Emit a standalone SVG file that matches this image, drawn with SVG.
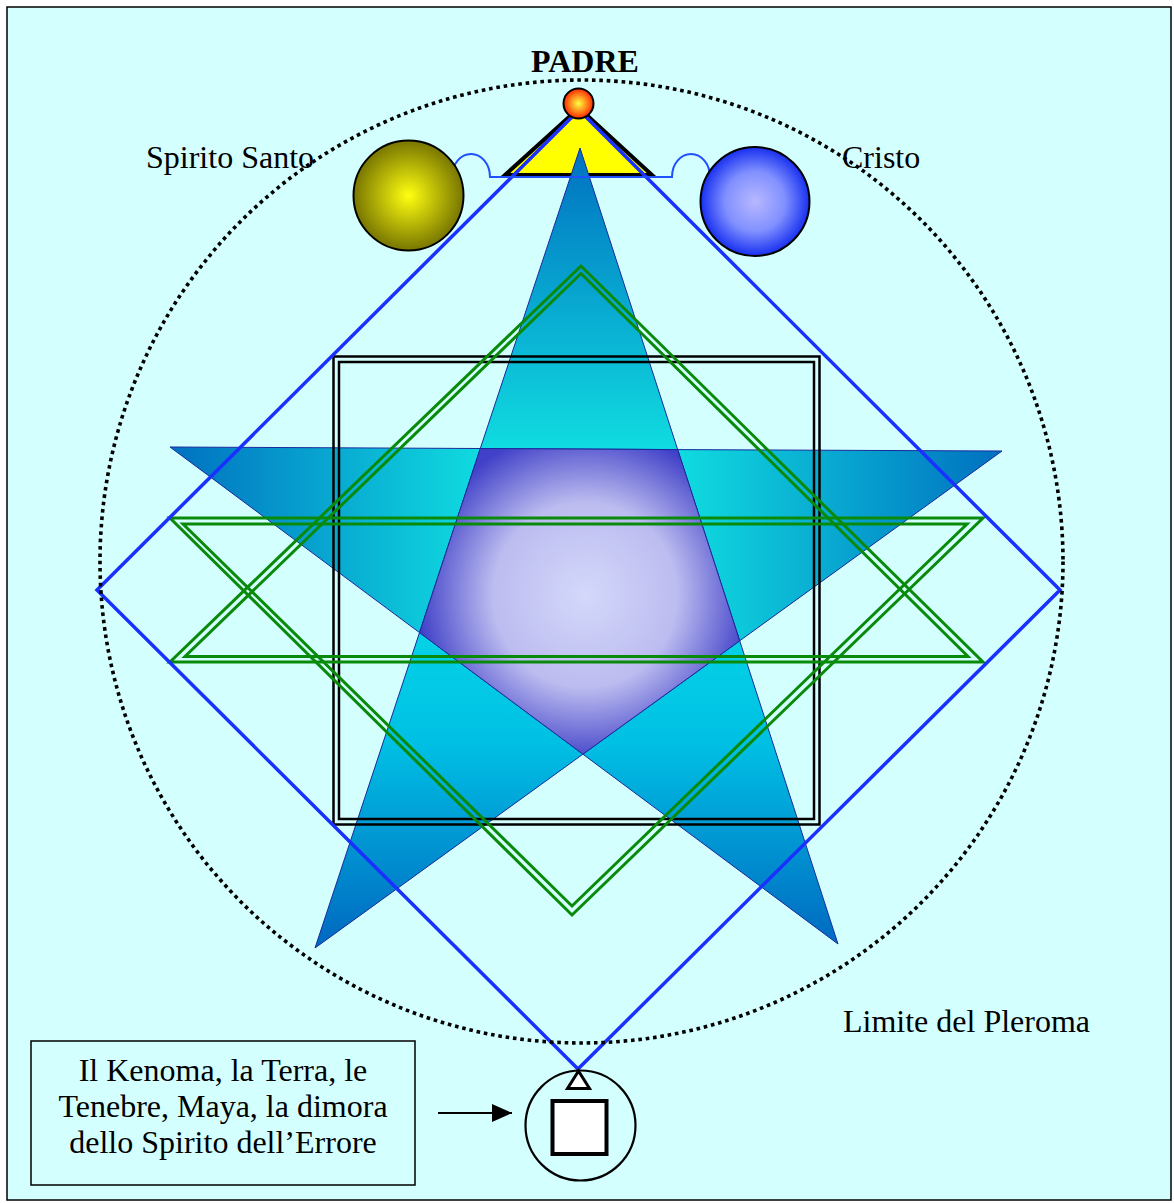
<svg xmlns="http://www.w3.org/2000/svg" width="1174" height="1203" viewBox="0 0 1174 1203">
<defs>
<style>
.txt{font-family:"Liberation Serif","Times New Roman",serif;font-size:32px;fill:#000}
.bold{font-weight:bold}
.tip{stroke:#1a2a9a;stroke-width:1}
.grn{fill:none;stroke:#0a8a0a;stroke-width:3}
.blk{fill:none;stroke:#000;stroke-width:2.5}
</style>
<linearGradient id="gTop" gradientUnits="userSpaceOnUse" x1="0" y1="148" x2="0" y2="449"><stop offset="0" stop-color="#0070c0"/><stop offset="1" stop-color="#10dce0"/></linearGradient>
<linearGradient id="gLeft" gradientUnits="userSpaceOnUse" x1="170" y1="0" x2="482" y2="0"><stop offset="0" stop-color="#0070c0"/><stop offset="1" stop-color="#10dce0"/></linearGradient>
<linearGradient id="gRight" gradientUnits="userSpaceOnUse" x1="1002" y1="0" x2="678" y2="0"><stop offset="0" stop-color="#0070c0"/><stop offset="1" stop-color="#10dce0"/></linearGradient>
<linearGradient id="gLow" gradientUnits="userSpaceOnUse" x1="0" y1="632" x2="0" y2="948"><stop offset="0" stop-color="#04d2e6"/><stop offset="0.35" stop-color="#00c0e4"/><stop offset="1" stop-color="#0068c0"/></linearGradient>
<radialGradient id="gPent" gradientUnits="userSpaceOnUse" cx="585" cy="595" r="168"><stop offset="0" stop-color="#d4d8fa"/><stop offset="0.55" stop-color="#bcbcf0"/><stop offset="1" stop-color="#4040c8"/></radialGradient>
<radialGradient id="gSS"><stop offset="0" stop-color="#ffff10"/><stop offset="1" stop-color="#787600"/></radialGradient>
<radialGradient id="gCr"><stop offset="0" stop-color="#b8b8ff"/><stop offset="0.55" stop-color="#8090ff"/><stop offset="1" stop-color="#1830f0"/></radialGradient>
<radialGradient id="gOr"><stop offset="0" stop-color="#ffff40"/><stop offset="1" stop-color="#ff2800"/></radialGradient>
<marker id="arr" markerWidth="20" markerHeight="18" refX="20" refY="9" orient="auto" markerUnits="userSpaceOnUse"><path d="M0,0 L20,9 L0,18 Z" fill="#000"/></marker>
</defs>
<rect x="0" y="0" width="1174" height="1203" fill="#fff"/>
<rect x="7" y="7" width="1164" height="1193" fill="#d4ffff" stroke="#000" stroke-width="1.5"/>

<g id="padre-triangle">
<polygon points="579,108 505,175 652,175" fill="#ffff00" stroke="#000" stroke-width="4" stroke-linejoin="miter"/>
</g>

<g id="pentagram">
<polygon class="tip" points="580,148 480.3,448.5 677.7,449.6" fill="url(#gTop)"/>
<polygon class="tip" points="170,447 480.3,448.5 419.5,632.6" fill="url(#gLeft)"/>
<polygon class="tip" points="1002,451 677.7,449.6 739.7,640.8" fill="url(#gRight)"/>
<polygon class="tip" points="315,948 419.5,632.6 582.9,754.2" fill="url(#gLow)"/>
<polygon class="tip" points="838,944 739.7,640.8 582.9,754.2" fill="url(#gLow)"/>
<polygon class="tip" points="480.3,448.5 677.7,449.6 739.7,640.8 582.9,754.2 419.5,632.6" fill="url(#gPent)"/>
</g>

<g id="square">
<rect class="blk" x="333.5" y="356.5" width="486" height="468"/>
<rect class="blk" x="339" y="362" width="475" height="457"/>
</g>

<g id="hexagram">
<polygon class="grn" points="581,266 170,662 983,662"/>
<polygon class="grn" points="581,273.5 185,656.5 968,656.5"/>
<polygon class="grn" points="170,518 983,518 572,915"/>
<polygon class="grn" points="183,524 967,524 572,906"/>
</g>

<g id="diamond">
<polygon points="579,110 1060,590 578,1069 97,590" fill="none" stroke="#1a30ff" stroke-width="3.5"/>
</g>

<g id="connectors">
<path d="M452,177 A19,23 0 0 1 490,177 L672,177 A19,23 0 0 1 710,177" fill="none" stroke="#2050ff" stroke-width="2"/>
<line x1="438" y1="1113" x2="512" y2="1113" stroke="#000" stroke-width="2" marker-end="url(#arr)"/>
</g>

<g id="spirito-santo">
<circle cx="408.5" cy="195.5" r="55" fill="url(#gSS)" stroke="#000" stroke-width="2"/>
<text class="txt" x="146" y="168">Spirito Santo</text>
</g>

<g id="cristo">
<circle cx="755" cy="201.5" r="54.5" fill="url(#gCr)" stroke="#000" stroke-width="2"/>
<text class="txt" x="842" y="168">Cristo</text>
</g>

<g id="padre">
<circle cx="578.5" cy="103.5" r="15" fill="url(#gOr)" stroke="#000" stroke-width="2"/>
<text class="txt bold" x="585" y="72" text-anchor="middle">PADRE</text>
</g>

<g id="pleroma">
<circle cx="581.5" cy="561.5" r="481.5" fill="none" stroke="#000" stroke-width="3.6" stroke-dasharray="3.6 3.8"/>
<text class="txt" x="843" y="1032">Limite del Pleroma</text>
</g>

<g id="kenoma-box">
<rect x="31" y="1041" width="384" height="144" fill="none" stroke="#000" stroke-width="1.5"/>
<text class="txt" x="223" y="1081" text-anchor="middle">Il Kenoma, la Terra, le</text>
<text class="txt" x="223" y="1117" text-anchor="middle">Tenebre, Maya, la dimora</text>
<text class="txt" x="223" y="1153" text-anchor="middle">dello Spirito dell’Errore</text>
</g>

<g id="kenoma">
<circle cx="580.5" cy="1125.5" r="55" fill="none" stroke="#000" stroke-width="2.2"/>
<polygon points="578.5,1071 567.5,1088.5 589.5,1088.5" fill="#fff" stroke="#000" stroke-width="3"/>
<rect x="552.5" y="1101" width="54" height="53" fill="#fff" stroke="#000" stroke-width="4"/>
</g>
</svg>
